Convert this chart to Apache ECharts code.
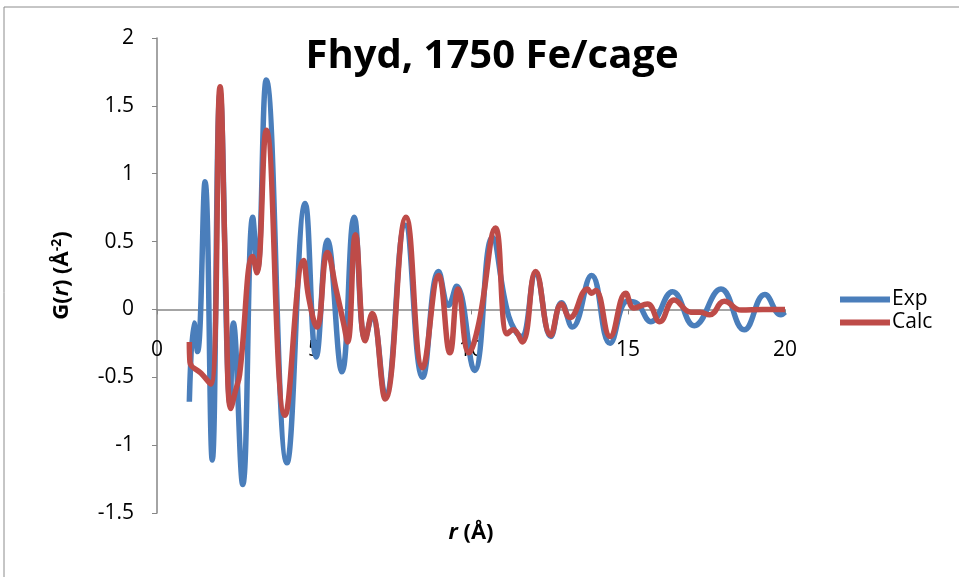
<!DOCTYPE html>
<html>
<head>
<meta charset="utf-8">
<script src="https://cdn.jsdelivr.net/npm/echarts@6/dist/echarts.min.js"></script>
<style>
  html, body { margin: 0; padding: 0; background: #fff; }
  #chart { width: 959px; height: 577px; }
</style>
</head>
<body>
<div id="chart"></div>
<script>
// r (Å) and G(r), peaks and troughs mostly
const expR = [1.03, 1.18, 1.29, 1.53, 1.76, 2.01, 2.33, 2.43, 2.73, 3.05, 3.20, 3.48, 4.14, 4.72, 5.07,
    5.43, 5.89, 6.28, 6.63, 6.85, 7.27, 7.90, 8.46, 8.97, 9.29, 9.54, 10.11, 10.68, 11.20, 11.60,
    12.06, 12.54, 12.88, 13.23, 13.84, 14.43, 14.98, 15.25, 15.73, 16.42, 17.11, 17.96, 18.70, 19.36,
    19.87, 20.0];
const expG = [-0.68, -0.10, -0.31, 0.94, -1.11, 1.60, -0.70, -0.10, -1.29, 0.68, 0.30, 1.69, -1.13, 0.78, -0.35,
    0.51, -0.46, 0.68, -0.22, -0.05, -0.63, 0.62, -0.50, 0.28, 0.03, 0.17, -0.45, 0.53, -0.05, -0.20,
    0.26, -0.20, 0.05, -0.13, 0.25, -0.25, 0.06, 0.05, -0.09, 0.13, -0.12, 0.15, -0.15, 0.11,
    -0.04, -0.02];

const calcR = [1.03, 1.05, 1.40, 1.71, 2.01, 2.17, 2.35, 2.50, 2.63, 3.05, 3.18, 3.48, 4.08, 4.67, 4.83,
    5.09, 5.43, 5.71, 5.94, 6.07, 6.32, 6.63, 6.85, 7.27, 7.93, 8.46, 8.97, 9.33, 9.59, 9.93,
    10.25, 10.78, 11.15, 11.35, 11.63, 12.06, 12.54, 12.88, 13.15, 13.71, 13.84, 13.97, 14.43, 14.93,
    15.19, 15.62, 16.01, 16.47, 17.0, 17.3, 17.6, 18.07, 18.6, 19.3, 20.0];
const calcG = [-0.24, -0.39, -0.47, -0.55, 1.64, 0.39, -0.73, -0.60, -0.48, 0.39, 0.27, 1.32, -0.78, 0.36, 0.09,
    -0.13, 0.42, 0.14, -0.10, -0.24, 0.55, -0.23, -0.03, -0.66, 0.68, -0.43, 0.25, -0.32, 0.15, -0.32,
    -0.10, 0.60, -0.18, -0.15, -0.24, 0.28, -0.19, 0.04, -0.06, 0.15, 0.12, 0.14, -0.20, 0.12,
    0.01, 0.04, -0.09, 0.07, -0.02, -0.02, -0.04, 0.06, -0.005, 0.0, 0.0];

const seriesNames = ['Exp', 'Calc'];
const titleText = 'Fhyd, 1750 Fe/cage';

function pairs(xs, ys) {
    return xs.map((x, i) => [x, ys[i]]);
}

const font = "'Open Sans', 'Liberation Sans', sans-serif";
const axisGrey = '#868686';
const gridTop = 38, gridBottom = 64, chartH = 577;
const yMin = -1.5, yMax = 2;
// the x axis sits on G = 0, so shift it up from the bottom of the grid
const plotH = chartH - gridTop - gridBottom;
const xAxisShift = -plotH * (0 - yMin) / (yMax - yMin);

let chart = echarts.init(document.getElementById('chart'));
let option = {
    backgroundColor: '#fff',
    animation: false,
    textStyle: { fontFamily: font, color: '#000' },
    title: {
        text: titleText,
        left: 487,
        top: 32,
        textAlign: 'center',
        textStyle: { fontFamily: font, fontSize: 40, fontWeight: 'bold', color: '#000' }
    },
    legend: {
        orient: 'vertical',
        left: 835,
        top: 284,
        icon: 'rect',
        itemWidth: 50,
        itemHeight: 6,
        itemGap: 2,
        data: seriesNames,
        textStyle: { fontFamily: font, fontSize: 21, color: '#000', padding: [0, 0, 0, -3] }
    },
    grid: { left: 157, right: 174, top: gridTop, bottom: gridBottom, outerBoundsMode: 'none' },
    xAxis: {
        type: 'value',
        min: 0,
        max: 20,
        interval: 5,
        offset: xAxisShift,
        name: '{i|r} (Å)',
        nameLocation: 'middle',
        nameGap: 212,
        nameTextStyle: {
            fontSize: 22, fontWeight: 'bold', color: '#000',
            rich: { i: { fontStyle: 'italic', fontWeight: 'bold', fontSize: 22, fontFamily: font } }
        },
        axisLine: { onZero: false, lineStyle: { color: axisGrey, width: 1.5 } },
        axisTick: { show: true, length: 5, lineStyle: { color: axisGrey } },
        axisLabel: { margin: 30, fontSize: 21, color: '#000' },
        splitLine: { show: false }
    },
    yAxis: {
        type: 'value',
        min: yMin,
        max: yMax,
        interval: 0.5,
        name: 'G({i|r}) (Å{sup|-2})',
        nameLocation: 'middle',
        nameGap: 84,
        nameRotate: 90,
        nameTextStyle: {
            fontSize: 22, fontWeight: 'bold', color: '#000',
            rich: {
                i: { fontStyle: 'italic', fontWeight: 'bold', fontSize: 22, fontFamily: font },
                sup: { fontSize: 14, fontWeight: 'bold', verticalAlign: 'top', padding: [0, 0, 9, 0], fontFamily: font }
            }
        },
        axisLine: { show: true, onZero: false, lineStyle: { color: axisGrey, width: 1.5 } },
        axisTick: { show: true, length: 5, lineStyle: { color: axisGrey } },
        axisLabel: { margin: 23, fontSize: 21, color: '#000' },
        splitLine: { show: false }
    },
    graphic: [{
        type: 'rect',
        shape: { x: 4, y: 7, width: 980, height: 600 },
        style: { fill: 'none', stroke: '#8c8c8c', lineWidth: 1 },
        silent: true
    }],
    series: [{
        name: seriesNames[0],
        type: 'line',
        symbol: 'none',
        smooth: 0.45,
        data: pairs(expR, expG),
        lineStyle: { color: '#4a7ebb', width: 5.5 },
        itemStyle: { color: '#4a7ebb' }
    }, {
        name: seriesNames[1],
        type: 'line',
        symbol: 'none',
        smooth: 0.45,
        data: pairs(calcR, calcG),
        lineStyle: { color: '#be4b48', width: 5.5 },
        itemStyle: { color: '#be4b48' }
    }]
};

option && chart.setOption(option);
</script>
</body>
</html>
